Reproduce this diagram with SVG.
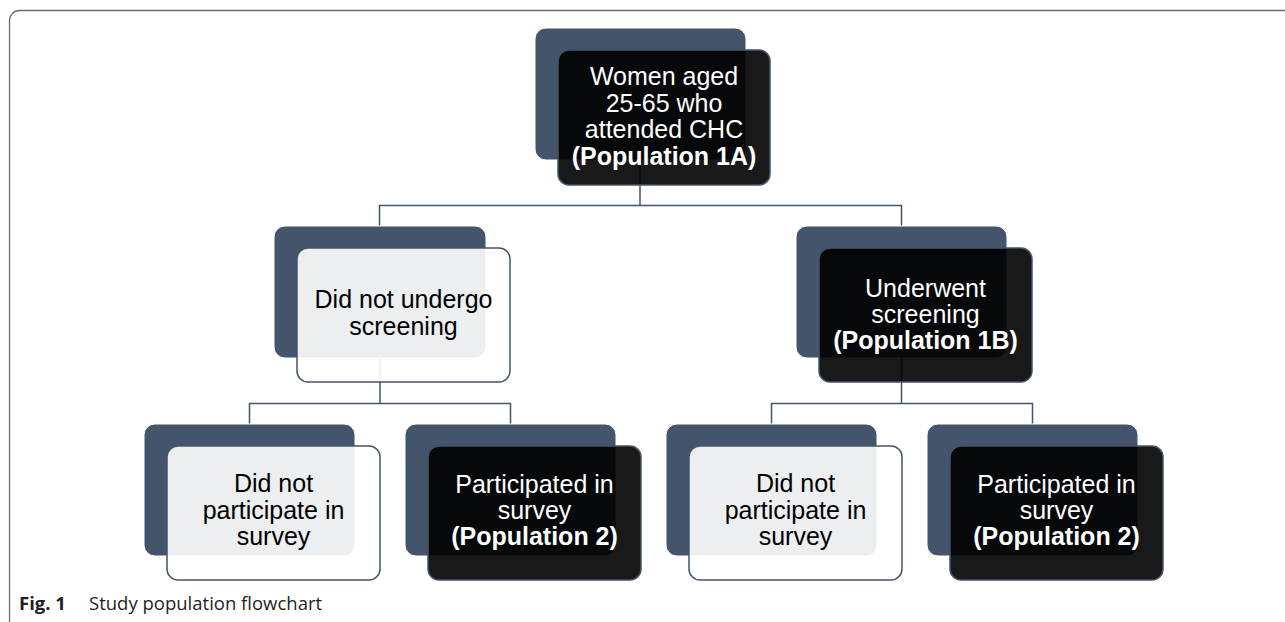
<svg xmlns="http://www.w3.org/2000/svg" width="1285" height="622" viewBox="0 0 1285 622">
<style>
.back{fill:#44546a;stroke:#ffffff;stroke-width:1}
.fd{fill:#000000;fill-opacity:0.9;stroke:#44546a;stroke-width:1.5}
.fl{fill:#ffffff;fill-opacity:0.9;stroke:#44546a;stroke-width:1.5}
.tw{font-family:'Liberation Sans',Arial,sans-serif;font-size:25px;fill:#ffffff;text-anchor:middle}
.tk{font-family:'Liberation Sans',Arial,sans-serif;font-size:25px;fill:#000000;text-anchor:middle}
.b{font-weight:bold}
.conn{fill:none;stroke:#44546a;stroke-width:1.5}
.cap{font-family:'Open Sans','Noto Sans',sans-serif;font-size:18.5px;fill:#231f20}
</style>
<rect x="9.5" y="10.5" width="1300" height="625" rx="10" fill="#ffffff" stroke="#6d6d6d" stroke-width="1.3"/>
<g id="connectors">
<path class="conn" d="M640 160 V205.5 M379.5 226 V205.5 H901.5 V226"/>
<path class="conn" d="M380 358 V403.5 M249.5 424 V403.5 H510.5 V424"/>
<path class="conn" d="M901.5 358 V403.5 M771.5 424 V403.5 H1032.5 V424"/>
</g>
<g id="node-top">
<rect class="back" x="535" y="28" width="211" height="132" rx="11"/>
<rect class="fd" x="558" y="50" width="212" height="135" rx="11"/>
<text class="tw" x="664" y="85">Women aged</text>
<text class="tw" x="664" y="111.5">25-65 who</text>
<text class="tw" x="664" y="138">attended CHC</text>
<text class="tw b" x="664" y="164.5">(Population 1A)</text>
</g>
<g id="node-not-screened">
<rect class="back" x="274" y="226" width="212" height="132" rx="11"/>
<rect class="fl" x="297" y="248" width="213" height="134" rx="11"/>
<text class="tk" x="403.5" y="308">Did not undergo</text>
<text class="tk" x="403.5" y="335">screening</text>
</g>
<g id="node-screened">
<rect class="back" x="796" y="226" width="211" height="132" rx="11"/>
<rect class="fd" x="819" y="248" width="213" height="134" rx="11"/>
<text class="tw" x="925.5" y="297">Underwent</text>
<text class="tw" x="925.5" y="323">screening</text>
<text class="tw b" x="925.5" y="349">(Population 1B)</text>
</g>
<g id="node-b1">
<rect class="back" x="144" y="424" width="211" height="132" rx="11"/>
<rect class="fl" x="167" y="446" width="213" height="134" rx="11"/>
<text class="tk" x="273.5" y="492">Did not</text>
<text class="tk" x="273.5" y="519">participate in</text>
<text class="tk" x="273.5" y="545">survey</text>
</g>
<g id="node-b2">
<rect class="back" x="405" y="424" width="211" height="132" rx="11"/>
<rect class="fd" x="428" y="446" width="213" height="134" rx="11"/>
<text class="tw" x="534.5" y="493">Participated in</text>
<text class="tw" x="534.5" y="519">survey</text>
<text class="tw b" x="534.5" y="545">(Population 2)</text>
</g>
<g id="node-b3">
<rect class="back" x="666" y="424" width="211" height="132" rx="11"/>
<rect class="fl" x="689" y="446" width="213" height="134" rx="11"/>
<text class="tk" x="795.5" y="492">Did not</text>
<text class="tk" x="795.5" y="519">participate in</text>
<text class="tk" x="795.5" y="545">survey</text>
</g>
<g id="node-b4">
<rect class="back" x="927" y="424" width="211" height="132" rx="11"/>
<rect class="fd" x="950" y="446" width="213" height="134" rx="11"/>
<text class="tw" x="1056.5" y="493">Participated in</text>
<text class="tw" x="1056.5" y="519">survey</text>
<text class="tw b" x="1056.5" y="545">(Population 2)</text>
</g>
<text class="cap" x="19" y="610"><tspan font-weight="bold">Fig. 1</tspan><tspan x="89">Study population flowchart</tspan></text>
</svg>
